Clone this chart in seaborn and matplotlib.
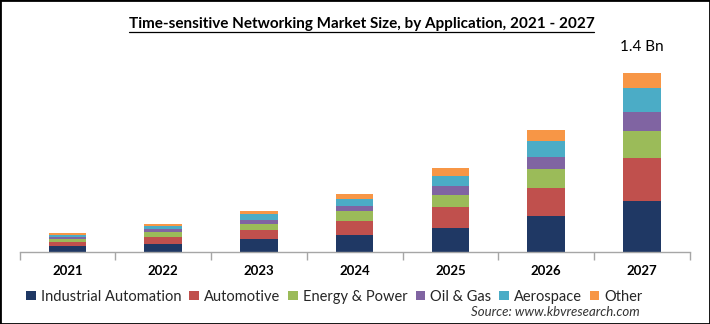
import matplotlib
matplotlib.use("Agg")
import matplotlib.pyplot as plt
from matplotlib.patches import Patch, Rectangle
from matplotlib.lines import Line2D
import numpy as np
import pandas as pd
import seaborn as sns

# Market size by application, USD million
years = ["2021", "2022", "2023", "2024", "2025", "2026", "2027"]
industrial_automation = [49, 65, 103, 138, 192, 281, 400]
automotive = [34, 57, 69, 108, 161, 221, 338]
energy_power = [21, 39, 51, 73, 96, 148, 208]
oil_gas = [13, 21, 31, 41, 68, 96, 148]
aerospace = [18, 23, 43, 58, 78, 122, 185]
other = [16, 18, 27, 37, 60, 86, 121]

segments = ["Industrial Automation", "Automotive", "Energy & Power",
            "Oil & Gas", "Aerospace", "Other"]
colors = ["#1F3864", "#C0504D", "#9BBB59", "#8064A2", "#4BACC6", "#F79646"]

sns.set_theme(style="white")
plt.rcParams["font.family"] = ["Lato", "DejaVu Sans"]

df = pd.DataFrame({
    "year": years,
    "Industrial Automation": industrial_automation,
    "Automotive": automotive,
    "Energy & Power": energy_power,
    "Oil & Gas": oil_gas,
    "Aerospace": aerospace,
    "Other": other,
})
cum = df[segments].cumsum(axis=1)

W, H = 710, 324
fig = plt.figure(figsize=(W / 100, H / 100), dpi=100)
ax = fig.add_axes([19.5 / W, (H - 252.3) / H, 670.25 / W, 192.4 / H])

# Stack by overlaying cumulative totals, tallest first
for seg, col in reversed(list(zip(segments, colors))):
    sns.barplot(x=df["year"], y=cum[seg], color=col, width=0.39,
                linewidth=0, saturation=1, ax=ax, order=years)

ax.set_xlim(-0.5, len(years) - 0.5)
ax.set_ylim(0, 1500)
ax.set_xlabel("")
ax.set_ylabel("")
ax.set_yticks([])
for s in ["top", "right", "left"]:
    ax.spines[s].set_visible(False)
ax.spines["bottom"].set_color("#a6a6a6")
ax.spines["bottom"].set_linewidth(1.0)
ax.set_xticks(np.arange(len(years)))
ax.set_xticklabels(years, fontsize=9.5, fontweight="bold", color="black")
ax.set_xticks(np.arange(len(years) + 1) - 0.5, minor=True)
ax.tick_params(axis="x", which="major", length=0, pad=9)
ax.tick_params(axis="x", which="minor", length=6, color="#a6a6a6",
               width=1.0, direction="out", bottom=True)

# Total label above the final bar
total_last = cum["Other"].iloc[-1]
fig.text(642 / W, 1 - 46.7 / H, f"{total_last / 1000:.1f} Bn",
         ha="center", va="center", fontsize=11, color="black")

# Underlined title
title = fig.text(361.5 / W, 1 - 28.3 / H,
                 "Time-sensitive Networking Market Size, by Application, 2021 - 2027",
                 ha="center", va="baseline", fontsize=11, fontweight="bold",
                 color="black")
fig.canvas.draw()
bb = title.get_window_extent(fig.canvas.get_renderer())
uy = 1 - 31.5 / H
fig.add_artist(Line2D([bb.x0 / W, bb.x1 / W], [uy, uy], color="black",
                      lw=0.9, transform=fig.transFigure))

# Legend row
handles = [Patch(facecolor=c, edgecolor="none", label=s)
           for s, c in zip(segments, colors)]
fig.legend(handles=handles, loc="center", ncol=6, frameon=False,
           bbox_to_anchor=(334.5 / W, 1 - 296.7 / H), fontsize=10.5,
           handlelength=0.65, handleheight=0.65, handletextpad=0.35,
           columnspacing=0.55, borderaxespad=0, borderpad=0)

fig.text(640 / W, 1 - 312.3 / H, "Source: www.kbvresearch.com",
         ha="right", va="center", fontsize=9.5, style="italic", color="#333333")

# Figure frame
fig.add_artist(Rectangle((0, 0), 1, 1, transform=fig.transFigure,
                         fill=False, edgecolor="black", lw=2.0))

fig.savefig("out.png", dpi=100)
